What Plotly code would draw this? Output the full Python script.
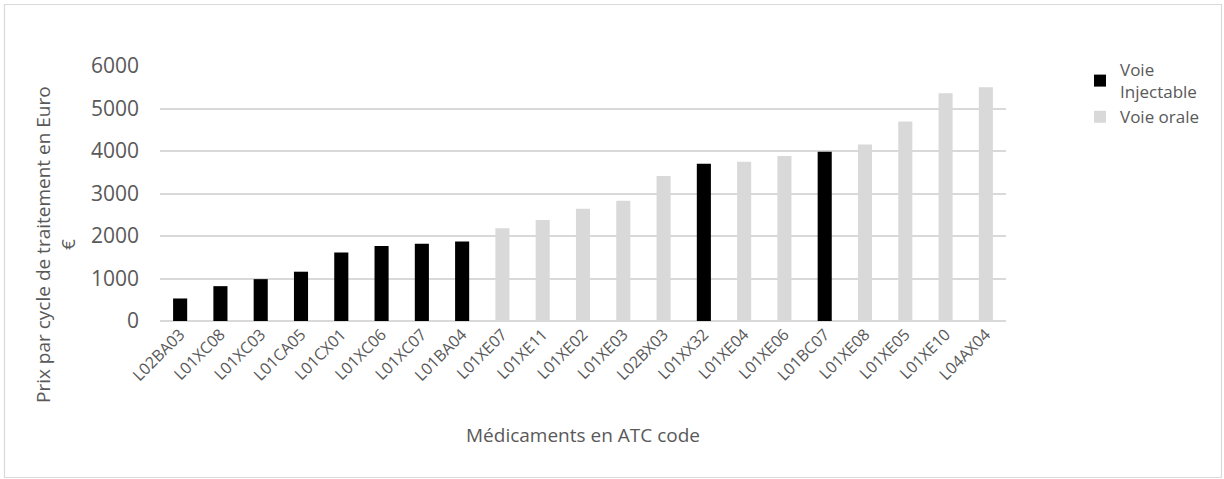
import plotly.graph_objects as go

categories = ["L02BA03", "L01XC08", "L01XC03", "L01CA05", "L01CX01", "L01XC06", "L01XC07",
              "L01BA04", "L01XE07", "L01XE11", "L01XE02", "L01XE03", "L02BX03", "L01XX32",
              "L01XE04", "L01XE06", "L01BC07", "L01XE08", "L01XE05", "L01XE10", "L04AX04"]
prix = [530, 820, 985, 1160, 1610, 1765, 1820, 1870, 2180, 2375, 2640, 2830, 3410, 3700,
        3750, 3880, 3985, 4155, 4695, 5360, 5500]
voie = ["inj", "inj", "inj", "inj", "inj", "inj", "inj", "inj", "oral", "oral", "oral", "oral",
        "oral", "inj", "oral", "oral", "inj", "oral", "oral", "oral", "oral"]

series_names = {"inj": "Voie<br>Injectable", "oral": "Voie orale"}
series_colors = {"inj": "#000000", "oral": "#d9d9d9"}

W, H = 1224, 479
L, R, T, B = 160, 218, 66, 158

fig = go.Figure()
for key in ["inj", "oral"]:
    xs = [c for c, v in zip(categories, voie) if v == key]
    ys = [p for p, v in zip(prix, voie) if v == key]
    fig.add_trace(go.Bar(x=xs, y=ys, name=series_names[key],
                         marker=dict(color=series_colors[key], line=dict(width=0))))

font_family = "Open Sans, DejaVu Sans, sans-serif"
txt = "#595959"

pw = W - L - R
ph = H - T - B

fig.update_layout(
    width=W, height=H,
    margin=dict(l=L, r=R, t=T, b=B),
    paper_bgcolor="white", plot_bgcolor="white",
    barmode="overlay", bargap=0.65,
    font=dict(family=font_family, color=txt),
    showlegend=True,
    legend=dict(x=(1080 - L) / pw, y=(T + ph - 52) / ph, xanchor="left", yanchor="top",
                font=dict(size=17, color=txt), bgcolor="rgba(0,0,0,0)",
                traceorder="normal", itemwidth=30),
    xaxis=dict(categoryorder="array", categoryarray=categories, tickangle=-45,
               tickfont=dict(size=16, color=txt), showgrid=False, showline=False,
               ticks="", zeroline=False,
               title=dict(text="Médicaments en ATC code", font=dict(size=19, color=txt),
                          standoff=44)),
    yaxis=dict(range=[0, 6000], dtick=1000, showgrid=True, gridcolor="#d9d9d9", gridwidth=1.5,
               zeroline=True, zerolinecolor="#d9d9d9", zerolinewidth=1.5,
               tickfont=dict(size=21, color=txt), ticks="", ticklabelstandoff=20,
               showline=False),
    annotations=[dict(text="Prix par cycle de traitement en Euro<br>€", textangle=-90,
                      xref="paper", yref="paper",
                      x=(55 - L) / pw, y=(T + ph - 245) / ph,
                      xanchor="center", yanchor="middle", showarrow=False,
                      font=dict(size=19, color=txt))],
    shapes=[dict(type="rect", xref="paper", yref="paper",
                 x0=(4.5 - L) / pw, x1=(1221.5 - L) / pw,
                 y0=(T + ph - 477.5) / ph, y1=(T + ph - 4.5) / ph,
                 line=dict(color="#d9d9d9", width=1.2), fillcolor="rgba(0,0,0,0)",
                 layer="below")],
)

fig.write_html("out.html")
